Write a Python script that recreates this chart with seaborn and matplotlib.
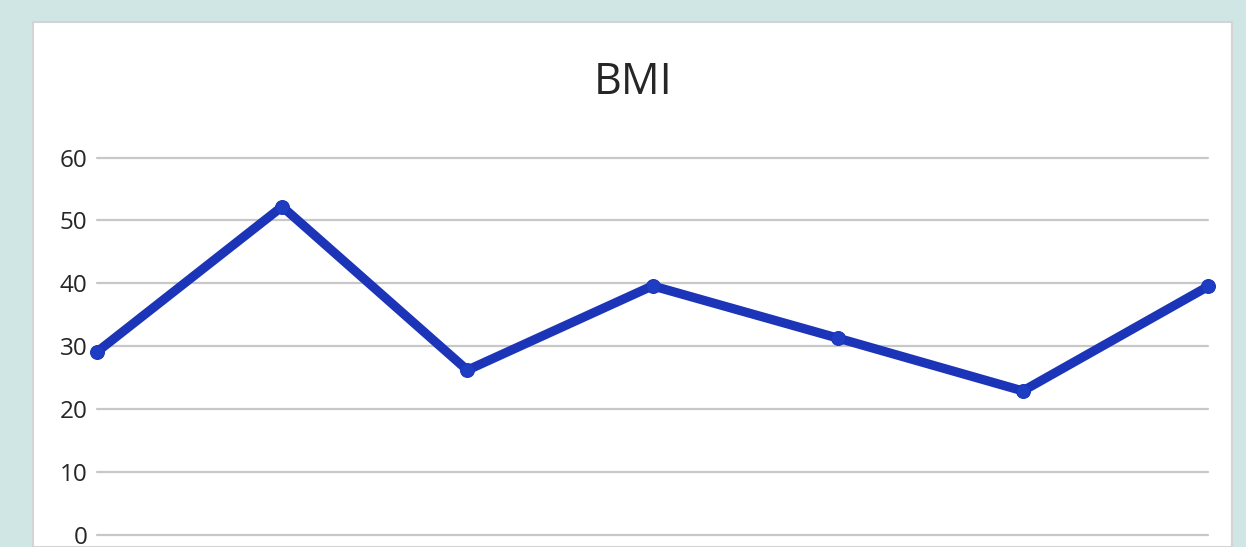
import matplotlib
matplotlib.use("Agg")
import matplotlib.pyplot as plt
from matplotlib.patches import Rectangle
import seaborn as sns
import pandas as pd

# BMI readings, one per subject, in recorded order
subjects = [1, 2, 3, 4, 5, 6, 7]
bmi = [29.1, 52.2, 26.2, 39.6, 31.3, 22.9, 39.5]
y_ticks = [0, 10, 20, 30, 40, 50, 60]

df = pd.DataFrame({"subject": subjects, "BMI": bmi})

sns.set_theme(style="white")
plt.rcParams["font.family"] = ["Open Sans", "DejaVu Sans"]

W, H = 1246, 547
fig = plt.figure(figsize=(W / 100, H / 100), dpi=100)
fig.patch.set_facecolor("#cfe6e5")

# white chart panel, kept behind the axes
panel = Rectangle((33 / W, 0), (1232 - 33) / W, (H - 22) / H,
                  transform=fig.transFigure, facecolor="white",
                  edgecolor="#d4d4d4", linewidth=1.5, zorder=-10)
fig.patches.append(panel)

ax = fig.add_axes([97 / W, 12 / H, (1208 - 97) / W, (535 - 157.5) / H])
ax.set_facecolor("none")
ax.set_zorder(1)

line_color = "#1b34b8"
sns.lineplot(data=df, x="subject", y="BMI", ax=ax, color=line_color,
             linewidth=6.6, marker="o", markersize=10,
             markeredgecolor=line_color, markerfacecolor="#1f3dc2",
             clip_on=False, zorder=3)

ax.set_xlim(subjects[0], subjects[-1])
ax.set_ylim(y_ticks[0], y_ticks[-1])
ax.set_yticks(y_ticks)
ax.set_yticklabels([str(t) for t in y_ticks])
ax.set_xticks([])
ax.set_xlabel("")
ax.set_ylabel("")
ax.tick_params(axis="y", length=0, pad=7, labelsize=17.5, labelcolor="#262626")
for lbl in ax.get_yticklabels():
    lbl.set_verticalalignment("center_baseline")

ax.yaxis.grid(True, color="#c8c8c8", linewidth=1.6, clip_on=False)
ax.set_axisbelow(True)
for s in ax.spines.values():
    s.set_visible(False)

fig.text(633 / W, 1 - 82.5 / H, "BMI", ha="center", va="center",
         fontsize=31, color="#262626")

fig.savefig("out.png", dpi=100, facecolor=fig.get_facecolor())
